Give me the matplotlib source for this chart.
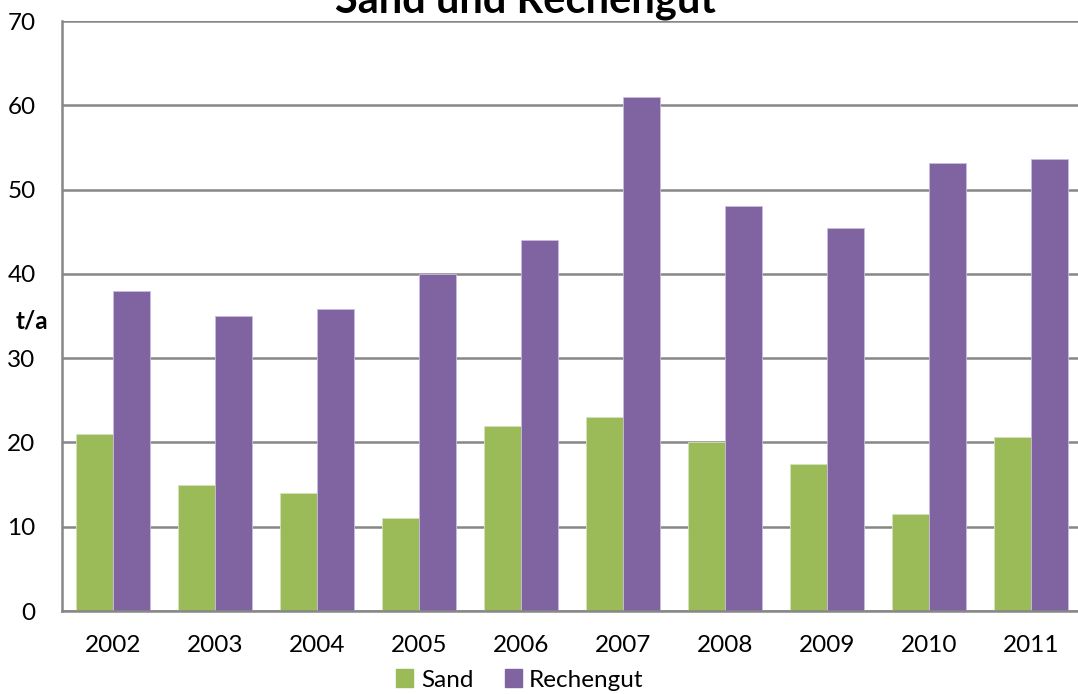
import matplotlib
matplotlib.use("Agg")
import matplotlib.pyplot as plt
import numpy as np
from matplotlib.patches import Patch

years = ["2002", "2003", "2004", "2005", "2006", "2007", "2008", "2009", "2010", "2011"]
sand = [21.0, 15.0, 14.0, 11.0, 22.0, 23.0, 20.0, 17.5, 11.5, 20.7]
rechengut = [38.0, 35.0, 35.8, 40.0, 44.0, 61.0, 48.0, 45.5, 53.2, 53.6]
yticks = [0, 10, 20, 30, 40, 50, 60, 70]

green = "#9BBB59"
purple = "#8064A2"
grid_c = "#878787"

plt.rcParams['font.family'] = ['Lato', 'DejaVu Sans']

fig = plt.figure(figsize=(10.78, 6.94), dpi=100)
ax = fig.add_axes([62/1078, 83/694, 1020/1078, 590/694])

x = np.arange(len(years))
w = 0.362
ax.bar(x - w/2, sand, width=w, color=green, edgecolor="#d4e2bb", linewidth=0.6, zorder=3, label="Sand")
ax.bar(x + w/2, rechengut, width=w, color=purple, edgecolor="#c9bddb", linewidth=0.6, zorder=3, label="Rechengut")

ax.set_xlim(-0.5, len(years) - 0.5)
ax.set_ylim(0, 70)
ax.set_yticks(yticks)
ax.set_yticklabels([str(t) for t in yticks])
ax.set_xticks(x)
ax.set_xticklabels(years)
ax.tick_params(axis='both', length=0, labelsize=17.5, colors="black")
ax.tick_params(axis='y', pad=19)
ax.tick_params(axis='x', pad=17)
ax.yaxis.grid(True, color=grid_c, linewidth=1.8, zorder=0)
ax.set_axisbelow(True)
for s in ['top', 'right']:
    ax.spines[s].set_visible(False)
for s in ['left', 'bottom']:
    ax.spines[s].set_color(grid_c)
    ax.spines[s].set_linewidth(1.8)
    ax.spines[s].set_zorder(4)

fig.text(32/1078, 1 - 321/694, "t/a", ha='center', va='center', fontsize=17.5, fontweight='bold')
fig.text(525/1078, 1 - 13/694, "Sand und Rechengut", ha='center', va='baseline', fontsize=30, fontweight='bold')

handles = [Patch(color=green, label="Sand"), Patch(color=purple, label="Rechengut")]
fig.legend(handles=handles, loc='center', bbox_to_anchor=(520/1078, 1 - 680/694), ncol=2,
           frameon=False, fontsize=17.5, handlelength=0.7, handleheight=0.7,
           handletextpad=0.3, columnspacing=1.3, borderaxespad=0)

fig.savefig("out.png", dpi=100)
